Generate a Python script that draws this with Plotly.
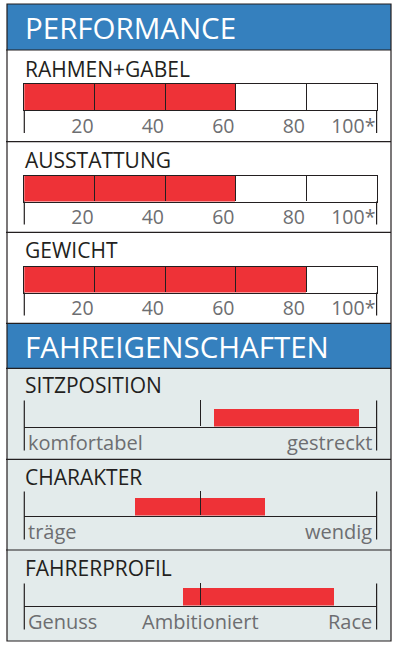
import plotly.graph_objects as go

# ---------------- data ----------------
section_titles = ["PERFORMANCE", "FAHREIGENSCHAFTEN"]

perf_categories = ["RAHMEN+GABEL", "AUSSTATTUNG", "GEWICHT"]
perf_values = [60, 60, 80]
perf_tickvals = [0, 20, 40, 60, 80, 100]
perf_ticktext = ["", "20", "40", "60", "80", "100*"]

ride_categories = ["SITZPOSITION", "CHARAKTER", "FAHRERPROFIL"]
ride_start = [54, 31.5, 45]
ride_end = [95, 68.5, 88]
ride_left = ["komfortabel", "träge", "Genuss"]
ride_mid = ["", "", "Ambitioniert"]
ride_right = ["gestreckt", "wendig", "Race"]
ride_mid_tick = [50]

# --------------- style / geometry ---------------
W, H = 395, 645
FONT = "Open Sans"
BLUE = "#3580BE"
RED = "#EE3237"
BG = "#E3EBEB"
DARK = "#231F20"
GREY = "#6D6E71"


def fx(p):
    return p / W


def fy(p):
    return 1 - p / H


X_LEFT, X_RIGHT = 24.3, 376.6
perf_bar_top = [84, 175.5, 266.5]
PERF_BAR_H = 26
PERF_TICK_BELOW = 23
perf_title_y = [69, 159.5, 250]

ride_top = [400.5, 491.5, 583.5]
ride_base = [426.5, 515.5, 605.5]
RIDE_BAR_H = 19
RIDE_TICK_BELOW = 24
ride_title_y = [385, 476.5, 568]

fig = go.Figure()
layout = dict(
    width=W, height=H, margin=dict(l=0, r=0, t=0, b=0),
    paper_bgcolor="white", plot_bgcolor="rgba(0,0,0,0)",
    showlegend=False, bargap=0,
)
shapes = []
annotations = []

# ----- background blocks -----
FR_L, FR_R, FR_T, FR_B = 7, 391, 4, 641
H1 = (4, 50)
H2 = (323.3, 368.3)
shapes.append(dict(type="rect", xref="paper", yref="paper", layer="below",
                   x0=fx(FR_L), x1=fx(FR_R), y0=fy(H1[1]), y1=fy(H1[0]),
                   fillcolor=BLUE, line=dict(width=0)))
shapes.append(dict(type="rect", xref="paper", yref="paper", layer="below",
                   x0=fx(FR_L), x1=fx(FR_R), y0=fy(H2[1]), y1=fy(H2[0]),
                   fillcolor=BLUE, line=dict(width=0)))
shapes.append(dict(type="rect", xref="paper", yref="paper", layer="below",
                   x0=fx(FR_L), x1=fx(FR_R), y0=fy(FR_B), y1=fy(H2[1]),
                   fillcolor=BG, line=dict(width=0)))
for yy in [H1[1], 141.7, 232.3, H2[0], H2[1], 459.3, 550]:
    shapes.append(dict(type="line", xref="paper", yref="paper", layer="below",
                       x0=fx(6), x1=fx(FR_R), y0=fy(yy), y1=fy(yy),
                       line=dict(color=DARK, width=1.2)))
shapes.append(dict(type="rect", xref="paper", yref="paper", layer="below",
                   x0=fx(FR_L), x1=fx(FR_R), y0=fy(FR_B), y1=fy(FR_T),
                   line=dict(color=DARK, width=1.2)))

# section titles
for title, (t, b) in zip(section_titles, [H1, H2]):
    annotations.append(dict(text=title, xref="paper", yref="paper",
                            x=fx(22.5), y=fy((t + b) / 2 + 1), xanchor="left", yanchor="middle",
                            showarrow=False, font=dict(family=FONT, size=29.5, color="white")))

# ----- performance bars -----
for i, (cat, val) in enumerate(zip(perf_categories, perf_values)):
    n = i + 1
    s = "" if n == 1 else str(n)
    fig.add_trace(go.Bar(x=[val], y=[0], base=0, width=1, orientation="h",
                         marker=dict(color=RED, line=dict(width=0)),
                         xaxis="x" + s, yaxis="y" + s, hoverinfo="skip"))
    top = perf_bar_top[i]
    layout["xaxis" + s] = dict(
        domain=[fx(X_LEFT), fx(X_RIGHT)], range=[0, 100], anchor="y" + s,
        tickmode="array", tickvals=perf_tickvals, ticktext=perf_ticktext,
        ticks="inside", ticklen=PERF_BAR_H, tickwidth=1.2, tickcolor=DARK,
        showline=True, linecolor=DARK, linewidth=1.2, mirror=True,
        showgrid=False, zeroline=False, layer="above traces",
        ticklabelposition="outside left", ticklabelstandoff=-2,
        tickfont=dict(family=FONT, size=19.5, color=GREY), fixedrange=True)
    layout["yaxis" + s] = dict(
        domain=[fy(top + PERF_BAR_H), fy(top)], range=[-0.5, 0.5], anchor="x" + s,
        showline=True, linecolor=DARK, linewidth=1.2, mirror=True,
        showticklabels=False, ticks="", showgrid=False, zeroline=False, fixedrange=True)
    for xd in [0, 1]:
        shapes.append(dict(type="line", xref="x%s domain" % s, yref="y%s domain" % s,
                           x0=xd, x1=xd, y0=0, y1=-PERF_TICK_BELOW / PERF_BAR_H,
                           line=dict(color=DARK, width=1.2)))
    annotations.append(dict(text=cat, xref="paper", yref="paper",
                            x=fx(22.5), y=fy(perf_title_y[i]), xanchor="left", yanchor="middle",
                            showarrow=False, font=dict(family=FONT, size=21, color=DARK)))

# ----- ride characteristics sliders -----
for i, cat in enumerate(ride_categories):
    n = i + 4
    s = str(n)
    top, base = ride_top[i], ride_base[i]
    hgt = base - top
    fig.add_trace(go.Bar(x=[ride_end[i] - ride_start[i]], base=[ride_start[i]],
                         y=[RIDE_BAR_H / 2 - 1], width=RIDE_BAR_H, orientation="h",
                         marker=dict(color=RED, line=dict(width=0)),
                         xaxis="x" + s, yaxis="y" + s, hoverinfo="skip"))
    layout["xaxis" + s] = dict(
        domain=[fx(X_LEFT), fx(X_RIGHT)], range=[0, 100], anchor="y" + s,
        tickmode="array", tickvals=ride_mid_tick, ticks="inside", ticklen=hgt,
        tickwidth=1.2, tickcolor=DARK, showticklabels=False,
        showline=True, linecolor=DARK, linewidth=1.2, mirror=False,
        showgrid=False, zeroline=False, layer="above traces", fixedrange=True)
    layout["yaxis" + s] = dict(
        domain=[fy(base), fy(top)], range=[0, hgt], anchor="x" + s,
        visible=False, fixedrange=True)
    for xd in [0, 1]:
        shapes.append(dict(type="line", xref="x%s domain" % s, yref="y%s domain" % s,
                           x0=xd, x1=xd, y0=1, y1=-RIDE_TICK_BELOW / hgt,
                           line=dict(color=DARK, width=1.2)))
    ly = fy(base + 16)
    for txt, xv, anc, sh in [(ride_left[i], 0, "left", 2),
                             (ride_mid[i], 50, "center", 0),
                             (ride_right[i], 100, "right", -3)]:
        if txt:
            annotations.append(dict(text=txt, xref="x" + s, yref="paper", x=xv, y=ly,
                                    xanchor=anc, yanchor="middle", xshift=sh, showarrow=False,
                                    font=dict(family=FONT, size=20, color=GREY)))
    annotations.append(dict(text=cat, xref="paper", yref="paper",
                            x=fx(22.5), y=fy(ride_title_y[i]), xanchor="left", yanchor="middle",
                            showarrow=False, font=dict(family=FONT, size=21, color=DARK)))

layout["shapes"] = shapes
layout["annotations"] = annotations
fig.update_layout(**layout)
fig.write_html("out.html", config={"displayModeBar": False})
